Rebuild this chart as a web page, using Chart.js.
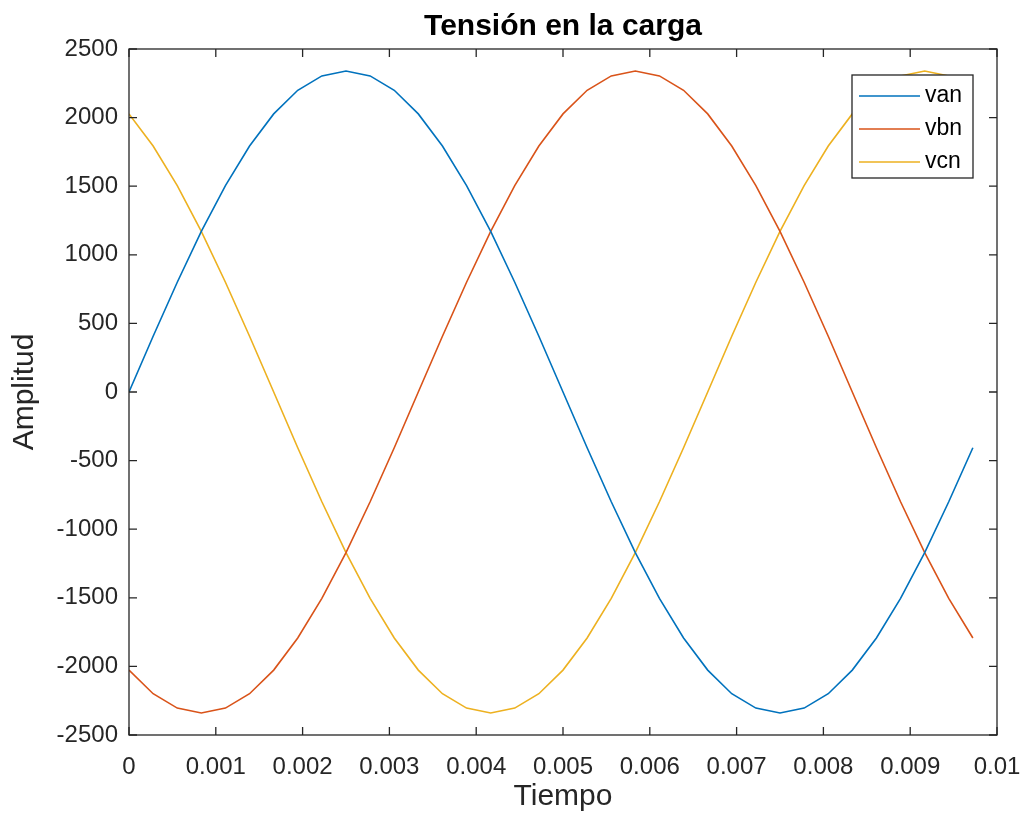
<!DOCTYPE html>
<html>
<head>
<meta charset="utf-8">
<script src="https://cdn.jsdelivr.net/npm/chart.js@4.4.0/dist/chart.umd.min.js"></script>
<style>
  body { margin: 0; background: #fff; }
  canvas { display: block; }
</style>
</head>
<body>
<canvas id="grafica" width="1026" height="821"></canvas>
<script>
// tiempo en segundos (paso de 1/3600 s)
var tiempo = [0, 0.000278, 0.000556, 0.000833, 0.001111, 0.001389, 0.001667, 0.001944, 0.002222, 0.0025,
	0.002778, 0.003056, 0.003333, 0.003611, 0.003889, 0.004167, 0.004444, 0.004722, 0.005, 0.005278,
	0.005556, 0.005833, 0.006111, 0.006389, 0.006667, 0.006944, 0.007222, 0.0075, 0.007778, 0.008056,
	0.008333, 0.008611, 0.008889, 0.009167, 0.009444, 0.009722];
var van = [0, 406, 800, 1170, 1504, 1793, 2027, 2199, 2304, 2340,
	2304, 2199, 2027, 1793, 1504, 1170, 800, 406, 0, -406,
	-800, -1170, -1504, -1793, -2027, -2199, -2304, -2340, -2304, -2199,
	-2027, -1793, -1504, -1170, -800, -406];
var vbn = [-2027, -2199, -2304, -2340, -2304, -2199, -2027, -1793, -1504, -1170,
	-800, -406, 0, 406, 800, 1170, 1504, 1793, 2027, 2199,
	2304, 2340, 2304, 2199, 2027, 1793, 1504, 1170, 800, 406,
	0, -406, -800, -1170, -1504, -1793];
var vcn = [2027, 1793, 1504, 1170, 800, 406, 0, -406, -800, -1170,
	-1504, -1793, -2027, -2199, -2304, -2340, -2304, -2199, -2027, -1793,
	-1504, -1170, -800, -406, 0, 406, 800, 1170, 1504, 1793,
	2027, 2199, 2304, 2340, 2304, 2199];
var series = ['van', 'vbn', 'vcn'];
var colores = ['#0072BD', '#D95319', '#EDB120'];
var xTicks = [0, 0.001, 0.002, 0.003, 0.004, 0.005, 0.006, 0.007, 0.008, 0.009, 0.01];
var yTicks = [-2500, -2000, -1500, -1000, -500, 0, 500, 1000, 1500, 2000, 2500];

var ejes = '#262626';
var fuente = '"Liberation Sans", Arial, sans-serif';

function puntos(valores) {
	return valores.map(function(v, i) { return { x: tiempo[i], y: v }; });
}

// caja, marcas hacia dentro y leyenda al estilo MATLAB
var cajaMatlab = {
	id: 'cajaMatlab',
	afterDatasetsDraw: function(chart) {
		var ctx = chart.ctx;
		var a = chart.chartArea;
		var sx = chart.scales.x, sy = chart.scales.y;
		var largo = 8;
		ctx.save();
		ctx.strokeStyle = ejes;
		ctx.lineWidth = 1.3;
		ctx.strokeRect(a.left, a.top, a.right - a.left, a.bottom - a.top);
		ctx.beginPath();
		xTicks.forEach(function(v) {
			var px = sx.getPixelForValue(v);
			ctx.moveTo(px, a.bottom); ctx.lineTo(px, a.bottom - largo);
			ctx.moveTo(px, a.top); ctx.lineTo(px, a.top + largo);
		});
		yTicks.forEach(function(v) {
			var py = sy.getPixelForValue(v);
			ctx.moveTo(a.left, py); ctx.lineTo(a.left + largo, py);
			ctx.moveTo(a.right, py); ctx.lineTo(a.right - largo, py);
		});
		ctx.stroke();

		// leyenda
		var bx = a.right - 145, by = a.top + 26, bw = 121, bh = 103;
		ctx.fillStyle = '#fff';
		ctx.fillRect(bx, by, bw, bh);
		ctx.strokeStyle = ejes;
		ctx.lineWidth = 1.3;
		ctx.strokeRect(bx, by, bw, bh);
		ctx.font = '23px ' + fuente;
		ctx.textBaseline = 'middle';
		ctx.textAlign = 'left';
		chart.data.datasets.forEach(function(ds, i) {
			var yy = by + 21 + i * 33;
			ctx.strokeStyle = ds.borderColor;
			ctx.lineWidth = 1.6;
			ctx.beginPath();
			ctx.moveTo(bx + 7, yy);
			ctx.lineTo(bx + 68, yy);
			ctx.stroke();
			ctx.fillStyle = '#000';
			ctx.fillText(ds.label, bx + 73, yy);
		});
		ctx.restore();
	}
};

var ctx = document.getElementById('grafica');
var grafica = new Chart(ctx, {
	type: 'line',
	data: {
		datasets: [
			{ label: series[0], data: puntos(van), borderColor: colores[0] },
			{ label: series[1], data: puntos(vbn), borderColor: colores[1] },
			{ label: series[2], data: puntos(vcn), borderColor: colores[2] }
		]
	},
	options: {
		responsive: false,
		animation: false,
		layout: { padding: { left: 0, right: 29, top: 0, bottom: 0 } },
		elements: {
			point: { radius: 0 },
			line: { borderWidth: 1.6, tension: 0 }
		},
		plugins: {
			legend: { display: false },
			tooltip: { enabled: false },
			title: {
				display: true,
				text: 'Tensión en la carga',
				fullSize: false,
				color: '#000',
				font: { family: fuente, size: 30, weight: 'bold' },
				padding: { top: 9, bottom: 4 }
			}
		},
		scales: {
			x: {
				type: 'linear',
				min: 0,
				max: 0.01,
				grid: { display: false, drawTicks: false },
				border: { display: false },
				afterBuildTicks: function(s) { s.ticks = xTicks.map(function(v) { return { value: v }; }); },
				afterFit: function(s) { s.height = 86; s.paddingLeft = 0; s.paddingRight = 0; },
				ticks: {
					color: ejes,
					padding: 18,
					maxRotation: 0,
					autoSkip: false,
					font: { family: fuente, size: 24 },
					callback: function(v) { return String(v); }
				},
				title: {
					display: true,
					text: 'Tiempo',
					color: ejes,
					font: { family: fuente, size: 30 },
					padding: { top: 0, bottom: 6 }
				}
			},
			y: {
				min: -2500,
				max: 2500,
				grid: { display: false, drawTicks: false },
				border: { display: false },
				afterBuildTicks: function(s) { s.ticks = yTicks.map(function(v) { return { value: v }; }); },
				afterFit: function(s) { s.width = 129; },
				ticks: {
					color: ejes,
					padding: 11,
					autoSkip: false,
					font: { family: fuente, size: 24 },
					callback: function(v) { return String(v); }
				},
				title: {
					display: true,
					text: 'Amplitud',
					color: ejes,
					font: { family: fuente, size: 30 },
					padding: { top: 7, bottom: 0 }
				}
			}
		}
	},
	plugins: [cajaMatlab]
});
</script>
</body>
</html>
